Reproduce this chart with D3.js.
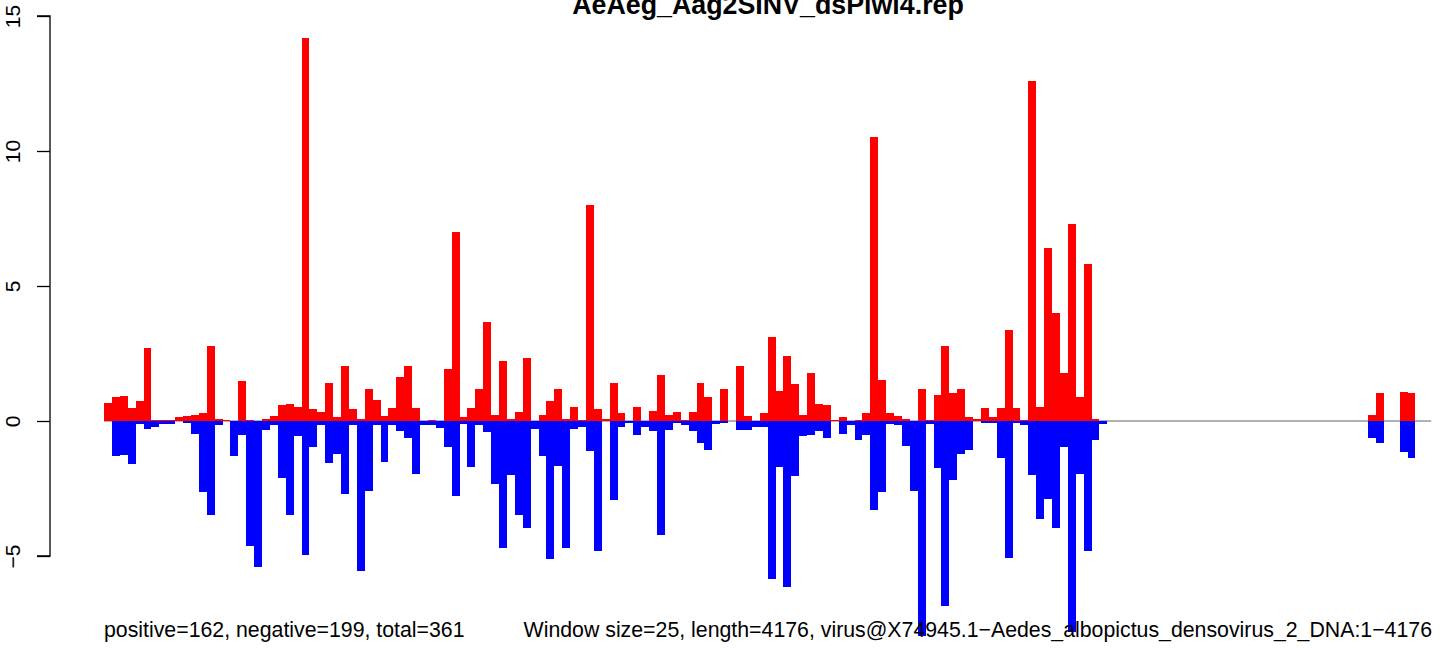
<!DOCTYPE html>
<html>
<head>
<meta charset="utf-8">
<script src="https://cdn.jsdelivr.net/npm/d3@7"></script>
<style>
  html, body { margin: 0; padding: 0; background: #ffffff; }
  svg { display: block; font-family: "Liberation Sans", Arial, Helvetica, sans-serif; }
</style>
</head>
<body>
<svg id="chart" width="1444" height="648"></svg>
<script>
// ---- data ----
const title = "AeAeg_Aag2SINV_dsPiwi4.rep";
const windowSize = 25;
const seqLength = 4176;
const nWindows = 167;
const leftNote = "positive=162, negative=199, total=361";
const rightNote = "Window size=25, length=4176, virus@X74945.1\u2212Aedes_albopictus_densovirus_2_DNA:1\u22124176";
const yTicks = [-5, 0, 5, 10, 15];

// sense (positive) per window, index 0..166
const positive = [
  0.68, 0.89, 0.93, 0.48, 0.74, 2.70, 0.05, 0.02, 0.05, 0.15,
  0.19, 0.22, 0.30, 2.78, 0.07, 0.05, 0, 1.48, 0.05, 0,
  0.07, 0.19, 0.59, 0.63, 0.52, 14.2, 0.44, 0.33, 1.41, 0.15,
  2.04, 0.44, 0.07, 1.19, 0.78, 0.19, 0.48, 1.63, 2.04, 0.48,
  0, 0.05, 0, 1.93, 7.0, 0.15, 0.48, 1.19, 3.67, 0.22,
  2.22, 0.07, 0.33, 2.33, 0, 0.22, 0.74, 1.19, 0.07, 0.52,
  0.05, 8.0, 0.44, 0.07, 1.41, 0.30, 0, 0.52, 0, 0.37,
  1.70, 0.22, 0.33, 0.05, 0.33, 1.41, 0.89, 0, 1.19, 0,
  2.04, 0.19, 0, 0.30, 3.11, 1.11, 2.41, 1.37, 0.22, 1.78,
  0.63, 0.59, 0.05, 0.15, 0, 0.04, 0.30, 10.52, 1.52, 0.30,
  0.19, 0.07, 0, 1.19, 0.05, 0.96, 2.78, 1.04, 1.19, 0.15,
  0.07, 0.48, 0.15, 0.48, 3.37, 0.48, 0.05, 12.59, 0.52, 6.41,
  4.0, 1.78, 7.30, 0.89, 5.81, 0.07, 0, 0, 0, 0,
  0, 0, 0, 0, 0, 0, 0, 0, 0, 0,
  0, 0, 0, 0, 0, 0, 0, 0, 0, 0,
  0, 0, 0, 0, 0, 0, 0, 0, 0, 0,
  0.23, 1.04, 0, 0, 1.07, 1.04, 0
];

// antisense (negative) per window, magnitudes, index 0..166
const negative = [
  0, 1.30, 1.26, 1.58, 0.10, 0.31, 0.22, 0.10, 0.10, 0,
  0.07, 0.47, 2.63, 3.47, 0.14, 0, 1.30, 0.51, 4.62, 5.40,
  0.35, 0.15, 2.10, 3.47, 0.56, 4.95, 0.96, 0.15, 1.54, 1.22,
  2.70, 0.15, 5.54, 2.58, 0.15, 1.51, 0.15, 0.36, 0.62, 1.96,
  0.15, 0.15, 0.25, 0.95, 2.77, 0.10, 1.69, 0.15, 0.41, 2.32,
  4.69, 2.00, 3.47, 3.95, 0.31, 1.30, 5.10, 1.65, 4.69, 0.31,
  0.21, 1.10, 4.80, 0, 2.91, 0.21, 0.07, 0.51, 0.21, 0.36,
  4.21, 0.32, 0.06, 0.14, 0.36, 0.80, 1.06, 0.10, 0.06, 0,
  0.32, 0.32, 0.21, 0.21, 5.84, 1.69, 6.14, 2.02, 0.56, 0.51,
  0.36, 0.62, 0, 0.47, 0.14, 0.69, 0.51, 3.28, 2.62, 0.10,
  0.14, 0.91, 2.58, 7.96, 0.10, 1.73, 6.84, 2.17, 1.21, 1.06,
  0, 0.06, 0.06, 1.36, 5.06, 0.06, 0.14, 1.99, 3.62, 2.88,
  3.95, 0.95, 7.80, 1.95, 4.80, 0.69, 0.10, 0, 0, 0,
  0, 0, 0, 0, 0, 0, 0, 0, 0, 0,
  0, 0, 0, 0, 0, 0, 0, 0, 0, 0,
  0, 0, 0, 0, 0, 0, 0, 0, 0, 0,
  0.62, 0.80, 0, 0, 1.14, 1.36, 0
];

// ---- drawing ----
const svg = d3.select("#chart");

// x in nucleotide coordinates (window start = index * windowSize)
const x = d3.scaleLinear().domain([0, 4200]).range([104, 1431.2]);
const y = d3.scaleLinear().domain([-5, 15]).range([556, 16]);

// zero line
svg.append("line")
  .attr("x1", x(0)).attr("x2", x(4200))
  .attr("y1", y(0)).attr("y2", y(0))
  .attr("stroke", "#666666").attr("stroke-width", 1.2);

const idx = d3.range(nWindows);

svg.append("g").selectAll("rect")
  .data(idx.filter(i => positive[i] > 0))
  .join("rect")
  .attr("x", i => x(i * windowSize))
  .attr("width", x(windowSize) - x(0))
  .attr("y", i => y(positive[i]))
  .attr("height", i => y(0) - y(positive[i]))
  .attr("fill", "#ff0000")
  .attr("shape-rendering", "crispEdges");

svg.append("g").selectAll("rect")
  .data(idx.filter(i => negative[i] > 0))
  .join("rect")
  .attr("x", i => x(i * windowSize))
  .attr("width", x(windowSize) - x(0))
  .attr("y", y(0))
  .attr("height", i => y(-negative[i]) - y(0))
  .attr("fill", "#0000ff")
  .attr("shape-rendering", "crispEdges");

// y axis (R style: rotated labels)
const axisG = svg.append("g").attr("transform", "translate(50,0)");
const yAxis = d3.axisLeft(y).tickValues(yTicks).tickSize(13).tickFormat(d => d < 0 ? "\u2212" + Math.abs(d) : String(d));
axisG.call(yAxis);
axisG.select(".domain").attr("d", `M-13,${y(-5)}H0V${y(15)}H-13`).attr("stroke", "#000").attr("stroke-width", 1.3).attr("fill", "none");
axisG.selectAll(".tick line").attr("stroke", "#000").attr("stroke-width", 1.3);
axisG.selectAll(".tick text")
  .attr("x", null).attr("dy", null)
  .attr("transform", "translate(-38,0) rotate(-90)")
  .attr("text-anchor", "middle")
  .attr("dominant-baseline", "central")
  .attr("font-size", 21)
  .attr("font-family", "Liberation Sans, Arial, sans-serif")
  .attr("fill", "#000");

// title
svg.append("text")
  .attr("x", 768).attr("y", 14)
  .attr("text-anchor", "middle")
  .attr("font-size", 26.8).attr("font-weight", "bold")
  .attr("fill", "#000")
  .text(title);

// bottom notes
svg.append("text")
  .attr("x", 104).attr("y", 637)
  .attr("font-size", 21.3).attr("fill", "#000")
  .text(leftNote);

svg.append("text")
  .attr("x", 1432).attr("y", 637)
  .attr("text-anchor", "end")
  .attr("font-size", 21.3).attr("fill", "#000")
  .text(rightNote);
</script>
</body>
</html>
